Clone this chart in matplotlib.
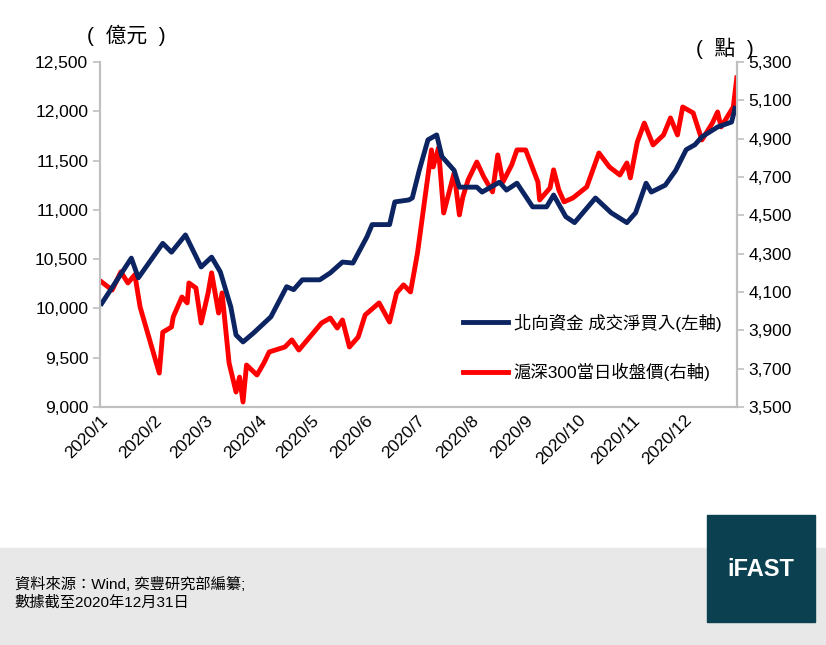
import pandas as pd
import matplotlib.pyplot as plt
import matplotlib.dates as mdates
from matplotlib.patches import Rectangle

plt.rcParams['font.family'] = ['Liberation Sans', 'Noto Sans CJK TC', 'DejaVu Sans']

# Northbound net buying (left axis), day of year -> value
flow_days = [1, 18, 22, 36, 41, 49, 58, 64, 69, 75, 78, 82, 88, 98, 107, 111, 116, 126, 132, 139,
             145, 153, 156, 166, 169, 177, 179, 183, 188, 193, 196, 203, 206, 216, 219, 229, 233, 239, 248, 256,
             260, 267, 272, 284, 293, 302, 307, 313, 316, 324, 330, 336, 341, 345, 354, 362, 364]
flow_vals = [10050, 10510, 10310, 10660, 10570, 10745, 10420, 10520, 10370, 10015,
             9730, 9660, 9750, 9915, 10220, 10190, 10290, 10290, 10360, 10470,
             10460, 10725, 10850, 10850, 11080, 11100, 11120, 11400, 11710, 11760,
             11540, 11400, 11230, 11230, 11180, 11280, 11200, 11270, 11030, 11030,
             11150, 10930, 10870, 11120, 10970, 10870, 10970, 11270, 11180, 11250,
             11400, 11610, 11660, 11740, 11840, 11890, 12030]

# CSI 300 close (right axis)
csi_days = [1, 7, 12, 16, 20, 23, 34, 36, 41, 42, 47, 50, 51, 55, 58, 62, 64, 68, 70, 74,
            78, 80, 82, 84, 90, 94, 97, 106, 110, 114, 127, 132, 136, 139, 143, 148, 152, 160, 166, 170,
            174, 178, 182, 190, 191, 194, 197, 203, 206, 208, 211, 216, 220, 225, 228, 231, 236, 239, 244, 251,
            252, 258, 260, 263, 266, 271, 279, 286, 292, 298, 302, 304, 308, 312, 317, 323, 327, 331, 334, 340,
            345, 351, 354, 356, 363, 365]
csi_vals = [4152, 4110, 4205, 4147, 4190, 4022, 3677, 3890, 3917, 3970, 4074, 4043, 4147, 4121, 3938, 4095, 4200, 3990, 4095, 3730,
            3578, 3656, 3526, 3719, 3667, 3730, 3787, 3813, 3850, 3797, 3938, 3964, 3912, 3954, 3813, 3865, 3980, 4043, 3943, 4095,
            4137, 4100, 4303, 4841, 4752, 4851, 4512, 4721, 4502, 4596, 4684, 4778, 4700, 4622, 4815, 4674, 4763, 4841, 4841, 4674,
            4580, 4643, 4737, 4632, 4570, 4590, 4648, 4825, 4752, 4710, 4773, 4695, 4883, 4981, 4867, 4919, 5008, 4919, 5065, 5034,
            4893, 4981, 5039, 4961, 5065, 5217]

start = pd.Timestamp("2020-01-01")
flow_dates = [start + pd.Timedelta(days=d) for d in flow_days]
csi_dates = [start + pd.Timedelta(days=d) for d in csi_days]

fig = plt.figure(figsize=(8.26, 6.45), dpi=100)
ax = fig.add_axes([0.121, 0.369, 0.771, 0.535])
ax2 = ax.twinx()

navy = "#0c2461"
red = "#ff0000"
l1, = ax.plot(flow_dates, flow_vals, color=navy, lw=3.5, label="北向資金 成交淨買入(左軸)")
l2, = ax2.plot(csi_dates, csi_vals, color=red, lw=3.5, label="滬深300當日收盤價(右軸)")
ax.set_zorder(ax2.get_zorder() + 1)
ax.patch.set_visible(False)

ax.set_ylim(9000, 12500)
ax2.set_ylim(3500, 5300)
ax.set_yticks(range(9000, 12501, 500))
ax2.set_yticks(range(3500, 5301, 200))
ax.yaxis.set_major_formatter(plt.FuncFormatter(lambda v, p: f"{int(v):,}"))
ax2.yaxis.set_major_formatter(plt.FuncFormatter(lambda v, p: f"{int(v):,}"))
ax.set_xlim(pd.Timestamp("2020-01-01"), pd.Timestamp("2020-12-31"))
ax.xaxis.set_major_locator(mdates.MonthLocator())
ax.xaxis.set_major_formatter(plt.FuncFormatter(
    lambda v, p: f"{mdates.num2date(v).year}/{mdates.num2date(v).month}"))

for a in (ax, ax2):
    a.spines["top"].set_visible(False)
    for s in ("left", "right", "bottom"):
        a.spines[s].set_color("#bfbfbf")
        a.spines[s].set_linewidth(1.5)
    a.tick_params(colors="#bfbfbf", labelcolor="black", labelsize=12.5, width=1.2, length=5)
ax.tick_params(axis="x", length=0, labelsize=12.5, pad=4)
for lab in ax.get_xticklabels():
    lab.set_rotation(45)
    lab.set_ha("right")
    lab.set_rotation_mode("anchor")

ax.legend(handles=[l1, l2], loc="lower right", bbox_to_anchor=(1.0, 0.03), frameon=False,
          fontsize=12.5, labelspacing=1.8, handlelength=2.6, handletextpad=0.3)

fig.text(0.105, 0.935, "(  億元  )", fontsize=15, ha="left")
fig.text(0.843, 0.915, "(  點  )", fontsize=15, ha="left")

# footer
fig.patches.append(Rectangle((0, 0), 1, 97 / 645, transform=fig.transFigure,
                             color="#e8e8e8", zorder=0))
fig.patches.append(Rectangle((707 / 826, 23 / 645), 108 / 826, 107 / 645,
                             transform=fig.transFigure, color="#0b4050", zorder=1))
fig.text(761 / 826, 76 / 645, "iFAST", color="white", fontsize=17, fontweight="bold",
         ha="center", va="center")
fig.text(0.018, 0.105, "資料來源：Wind, 奕豐研究部編纂;\n數據截至2020年12月31日",
         fontsize=11, va="top", linespacing=1.3)

fig.savefig("out.png", dpi=100)
